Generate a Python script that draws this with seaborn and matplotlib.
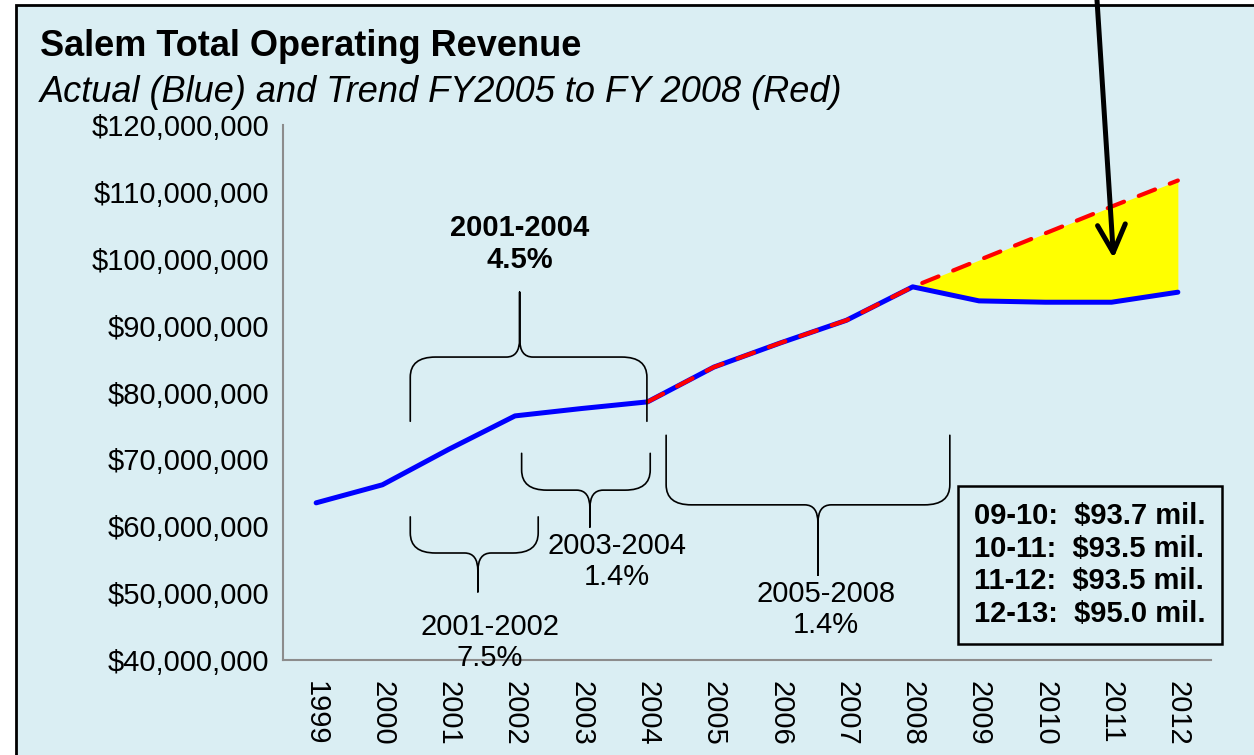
"""
Salem Total Operating Revenue - actual vs FY2005-2008 trend
"""

import numpy as np
import matplotlib
matplotlib.use('Agg')
import matplotlib.pyplot as plt
import seaborn as sns
from matplotlib.patches import Rectangle, PathPatch
from matplotlib.path import Path
from matplotlib.ticker import FuncFormatter

# ── Data ─────────────────────────────────────────────────────────────────────
YEARS = ['1999', '2000', '2001', '2002', '2003', '2004', '2005',
         '2006', '2007', '2008', '2009', '2010', '2011', '2012']
ACTUAL_MIL = [63.5, 66.2, 71.5, 76.5, 77.6, 78.6, 83.8,
              87.4, 90.8, 95.8, 93.7, 93.5, 93.5, 95.0]
TREND_YEARS = ['2004', '2005', '2006', '2007', '2008',
               '2009', '2010', '2011', '2012']
TREND_MIL = [78.6, 83.8, 87.4, 90.8, 95.8, 99.8, 103.8, 107.8, 111.7]
GAP_START = '2008'

BOX_LINES = ['09-10:  $93.7 mil.', '10-11:  $93.5 mil.',
             '11-12:  $93.5 mil.', '12-13:  $95.0 mil.']

TITLE = 'Salem Total Operating Revenue'
SUBTITLE = 'Actual (Blue) and Trend FY2005 to FY 2008 (Red)'

# brace annotations: (x0, x1, x_tip, y_leg, y_bar, y_tip, label, label_x, label_y, bold)
BRACES = [
    (1.42, 4.99, 3.07, 75.7, 85.3, 95.0, '2001-2004\n4.5%', 3.07, 102.2, True),
    (1.42, 3.35, 2.44, 61.4, 56.0, 50.2, '2001-2002\n7.5%', 2.62, 42.6, False),
    (3.10, 5.04, 4.13, 70.9, 65.4, 59.9, '2003-2004\n1.4%', 4.54, 54.7, False),
    (5.28, 9.56, 7.57, 73.6, 63.2, 52.7, '2005-2008\n1.4%', 7.69, 47.6, False),
]

# ── Style ────────────────────────────────────────────────────────────────────
BG = '#DAEEF3'
BLUE = '#0000FF'
RED = '#FF0000'
AXIS_GREY = '#8C8C8C'

sns.set_theme(style='white')
plt.rcParams['font.family'] = ['Liberation Sans', 'DejaVu Sans']
plt.rcParams['text.color'] = 'black'
plt.rcParams['xtick.labelcolor'] = 'black'
plt.rcParams['ytick.labelcolor'] = 'black'


def draw_brace(ax, x0, x1, xm, y_leg, y_bar, y_tip,
               rx=0.38, ry=3.0, rx2=0.2, ry2=2.7):
    d = 1.0 if y_tip > y_bar else -1.0
    s = 1e6
    verts = [
        (x0, y_leg * s), (x0, (y_bar - d * ry) * s),
        (x0, y_bar * s), (x0 + rx, y_bar * s),
        (xm - rx2, y_bar * s),
        (xm, y_bar * s), (xm, (y_bar + d * ry2) * s),
        (xm, y_tip * s),
        (xm, (y_bar + d * ry2) * s),
        (xm, y_bar * s), (xm + rx2, y_bar * s),
        (x1 - rx, y_bar * s),
        (x1, y_bar * s), (x1, (y_bar - d * ry) * s),
        (x1, y_leg * s),
    ]
    codes = [Path.MOVETO, Path.LINETO,
             Path.CURVE3, Path.CURVE3,
             Path.LINETO,
             Path.CURVE3, Path.CURVE3,
             Path.LINETO,
             Path.LINETO,
             Path.CURVE3, Path.CURVE3,
             Path.LINETO,
             Path.CURVE3, Path.CURVE3,
             Path.LINETO]
    ax.add_patch(PathPatch(Path(verts, codes), fill=False, edgecolor='black',
                           lw=1.2, joinstyle='round', capstyle='round',
                           zorder=4, clip_on=False))


# ── Figure ───────────────────────────────────────────────────────────────────
fig = plt.figure(figsize=(12.54, 7.55), dpi=100, facecolor='white')
fig.patches.append(Rectangle((16 / 1254, -0.1), 1.2, 1.1 - 5 / 755,
                             transform=fig.transFigure, facecolor=BG,
                             edgecolor='black', lw=2.0, zorder=-1))

ax = fig.add_axes([283 / 1254, 1 - 660 / 755, (1211 - 283) / 1254, (660 - 125) / 755])
ax.patch.set_alpha(0)

x = np.arange(len(YEARS))
actual = np.array(ACTUAL_MIL) * 1e6
x_trend = np.array([YEARS.index(y) for y in TREND_YEARS])
trend = np.array(TREND_MIL) * 1e6

# yellow gap between trend and actual
gi = YEARS.index(GAP_START)
ti = TREND_YEARS.index(GAP_START)
ax.fill_between(x[gi:], actual[gi:], trend[ti:], color='#FFFF00', lw=0, zorder=1)

sns.lineplot(x=x, y=actual, ax=ax, color=BLUE, lw=3.6,
             solid_capstyle='round', zorder=2)
sns.lineplot(x=x_trend, y=trend, ax=ax, color=RED, lw=3.0,
             linestyle=(0, (4.2, 3.8)), dash_capstyle='round', zorder=3)

ax.set_xlim(-0.5, len(YEARS) - 0.5)
ax.set_ylim(40e6, 120e6)
ax.set_yticks(np.arange(40e6, 120e6 + 1, 10e6))
ax.yaxis.set_major_formatter(FuncFormatter(lambda v, _: f'${v:,.0f}'))

ax.set_xticks(x)
ax.set_xticklabels(YEARS, rotation=270)
ax.set_xticks(np.arange(-0.5, len(YEARS), 1), minor=True)
ax.tick_params(axis='x', which='major', length=0, pad=15, labelsize=21)
ax.tick_params(axis='x', which='minor', length=8, width=1.5,
               color=AXIS_GREY, direction='out')
ax.tick_params(axis='y', length=8, width=1.5, color=AXIS_GREY,
               direction='out', pad=2, labelsize=21)
ax.set_xlabel('')
ax.set_ylabel('')

for side in ['top', 'right']:
    ax.spines[side].set_visible(False)
for side in ['left', 'bottom']:
    ax.spines[side].set_color(AXIS_GREY)
    ax.spines[side].set_linewidth(1.5)

# braces and growth labels
for x0, x1, xm, y_leg, y_bar, y_tip, label, lx, ly, bold in BRACES:
    draw_brace(ax, x0, x1, xm, y_leg, y_bar, y_tip)
    ax.text(lx, ly * 1e6, label, ha='center', va='center', fontsize=21,
            fontweight='bold' if bold else 'normal', linespacing=1.15,
            zorder=5, clip_on=False)

# arrow into the gap
ax.annotate('', xy=(12.03, 100.1e6), xycoords='data',
            xytext=(1097 / 1254, 1.0), textcoords='figure fraction',
            arrowprops=dict(arrowstyle='->,head_length=1.0,head_width=0.5',
                            lw=3.6, color='black', mutation_scale=20,
                            shrinkA=0, shrinkB=0),
            annotation_clip=False, zorder=6)

# summary box
fig.text(1090 / 1254, 1 - 565 / 755, '\n'.join(BOX_LINES), ha='center', va='center',
         multialignment='left', fontsize=21, fontweight='bold', linespacing=1.22,
         bbox=dict(boxstyle='square,pad=0.55', facecolor=BG, edgecolor='black', lw=1.8))

# titles
fig.text(40 / 1254, 1 - 46 / 755, TITLE, ha='left', va='center',
         fontsize=26, fontweight='bold')
fig.text(40 / 1254, 1 - 92 / 755, SUBTITLE, ha='left', va='center',
         fontsize=26, fontstyle='italic')

fig.savefig('out.png', dpi=100, facecolor='white')
